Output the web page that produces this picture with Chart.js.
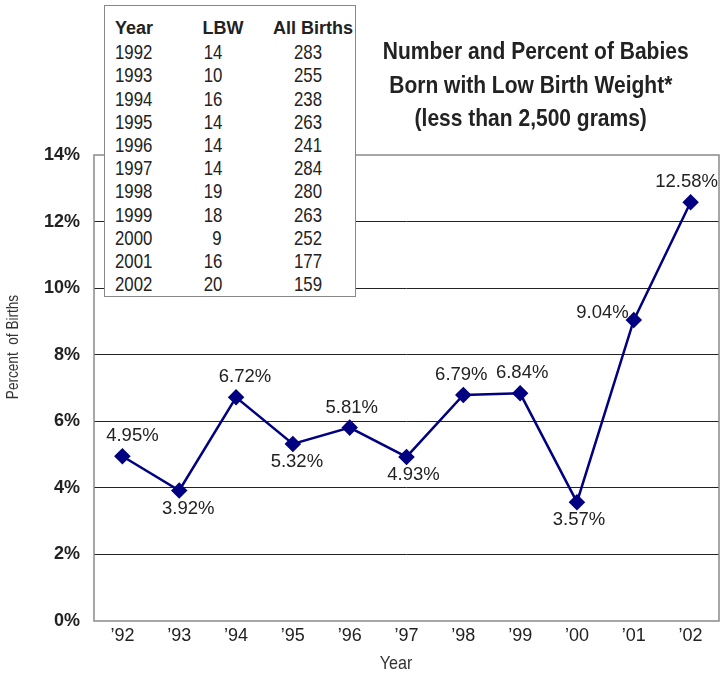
<!DOCTYPE html>
<html>
<head>
<meta charset="utf-8">
<script src="https://cdn.jsdelivr.net/npm/chart.js@4.4.0/dist/chart.umd.min.js"></script>
<style>
  html, body { margin: 0; padding: 0; background: #fff; }
  #wrap { position: relative; width: 728px; height: 677px; font-family: "Liberation Sans", Arial, sans-serif; }
  #c { position: absolute; left: 0; top: 0; }
  #title { position: absolute; left: 361px; width: 340px; top: 34px; text-align: center; font-weight: bold; font-size: 24px; line-height: 33.5px; color: #222; }
  #title span { display: inline-block; transform: scaleX(0.875); transform-origin: center; white-space: nowrap; }
  #tbl { position: absolute; left: 104px; top: 5px; width: 252px; height: 292px; background: #fff; border: 1.5px solid #888; box-sizing: border-box; color: #222; }
  #tbl table { border-collapse: collapse; position: absolute; left: 10px; top: 11px; }
  #tbl td { padding: 0; height: 23.2px; font-size: 21px; line-height: 23px; white-space: nowrap; }
  #tbl tr.h td { font-weight: bold; font-size: 18px; }
  #tbl span.n { display: inline-block; transform: scaleX(0.8); }
  #tbl span.l { transform-origin: left center; }
  #tbl span.r { transform-origin: right center; }
</style>
</head>
<body>
<div id="wrap">
  <canvas id="c" width="728" height="677"></canvas>
  <div id="title"><span>Number and Percent of Babies</span><br><span>Born with Low Birth Weight*</span><br><span>(less than 2,500 grams)</span></div>
  <div id="tbl"><table id="t"></table></div>
</div>
<script>
const categories = ["’92","’93","’94","’95","’96","’97","’98","’99","’00","’01","’02"];
const percentLBW = [4.95, 3.92, 6.72, 5.32, 5.81, 4.93, 6.79, 6.84, 3.57, 9.04, 12.58];
const labelPos = ["above","below","above","below","above","below","above","above","below","left","above"];
const labelDx = [10, 9, 9, 4, 2, 7, -2, 2, 2, 0, -4];
const tableYears = [1992,1993,1994,1995,1996,1997,1998,1999,2000,2001,2002];
const tableLBW = [14,10,16,14,14,14,19,18,9,16,20];
const tableAll = [283,255,238,263,241,284,280,263,252,177,159];
const yTicks = [0,2,4,6,8,10,12,14];

// build table
const t = document.getElementById('t');
let html = '<tr class="h"><td style="width:78px">Year</td><td style="width:60px;text-align:center">LBW</td><td style="width:100px;text-align:right">All Births</td></tr>';
for (let i = 0; i < tableYears.length; i++) {
  html += '<tr><td><span class="n l">' + tableYears[i] + '</span></td>' +
          '<td style="text-align:right;padding-right:31px"><span class="n r">' + tableLBW[i] + '</span></td>' +
          '<td style="text-align:right;padding-right:31px"><span class="n r">' + tableAll[i] + '</span></td></tr>';
}
t.innerHTML = html;

const FONT = '"Liberation Sans", Arial, sans-serif';

const frameAndLabels = {
  id: 'frameAndLabels',
  afterDatasetsDraw(chart) {
    const ctx = chart.ctx;
    const a = chart.chartArea;
    ctx.save();
    ctx.strokeStyle = '#8a8a8a';
    ctx.lineWidth = 1.5;
    ctx.strokeRect(a.left, a.top, a.right - a.left, a.bottom - a.top);
    const meta = chart.getDatasetMeta(0);
    ctx.font = '18.5px ' + FONT;
    ctx.fillStyle = '#222';
    meta.data.forEach((pt, i) => {
      const txt = percentLBW[i].toFixed(2) + '%';
      const p = labelPos[i];
      const dx = labelDx[i];
      ctx.textBaseline = 'middle';
      if (p === 'above') { ctx.textAlign = 'center'; ctx.fillText(txt, pt.x + dx, pt.y - 20); }
      else if (p === 'below') { ctx.textAlign = 'center'; ctx.fillText(txt, pt.x + dx, pt.y + 18); }
      else { ctx.textAlign = 'right'; ctx.fillText(txt, pt.x - 5, pt.y - 7); }
    });
    // axis titles
    ctx.fillStyle = '#333';
    ctx.font = '16px ' + FONT;
    ctx.textAlign = 'center';
    ctx.textBaseline = 'middle';
    ctx.save();
    ctx.translate(14, 347);
    ctx.rotate(-Math.PI / 2);
    ctx.scale(0.85, 1);
    ctx.fillText('Percent  of Births', 0, 0);
    ctx.restore();
    ctx.save();
    ctx.translate(396, 664);
    ctx.scale(0.85, 1);
    ctx.font = '19px ' + FONT;
    ctx.fillText('Year', 0, 0);
    ctx.restore();
    ctx.restore();
  }
};

new Chart(document.getElementById('c'), {
  type: 'line',
  data: {
    labels: categories,
    datasets: [{
      data: percentLBW,
      borderColor: '#000080',
      backgroundColor: '#000080',
      borderWidth: 2.5,
      tension: 0,
      pointStyle: 'rectRot',
      pointRadius: 6.5,
      pointBackgroundColor: '#000080',
      pointBorderColor: '#000080'
    }]
  },
  options: {
    responsive: false,
    animation: false,
    layout: { padding: { top: 155, right: 5, left: 0, bottom: 0 } },
    plugins: { legend: { display: false }, tooltip: { enabled: false } },
    scales: {
      x: {
        offset: true,
        grid: { display: false, drawTicks: false },
        border: { display: false },
        ticks: { color: '#222', font: { family: FONT, size: 18 }, padding: 4, maxRotation: 0 },
        afterFit(s) { s.height = 56; }
      },
      y: {
        min: 0, max: 14,
        afterBuildTicks(s) { s.ticks = yTicks.map(v => ({ value: v })); },
        grid: { drawTicks: false, color: ctx => (ctx.tick && (ctx.tick.value === 0 || ctx.tick.value === 14)) ? 'rgba(0,0,0,0)' : '#222', lineWidth: 1 },
        border: { display: false },
        ticks: { color: '#222', font: { family: FONT, size: 18, weight: 'bold' }, padding: 14, callback: v => v + '%' },
        afterFit(s) { s.width = 94; }
      }
    }
  },
  plugins: [frameAndLabels]
});
</script>
</body>
</html>
